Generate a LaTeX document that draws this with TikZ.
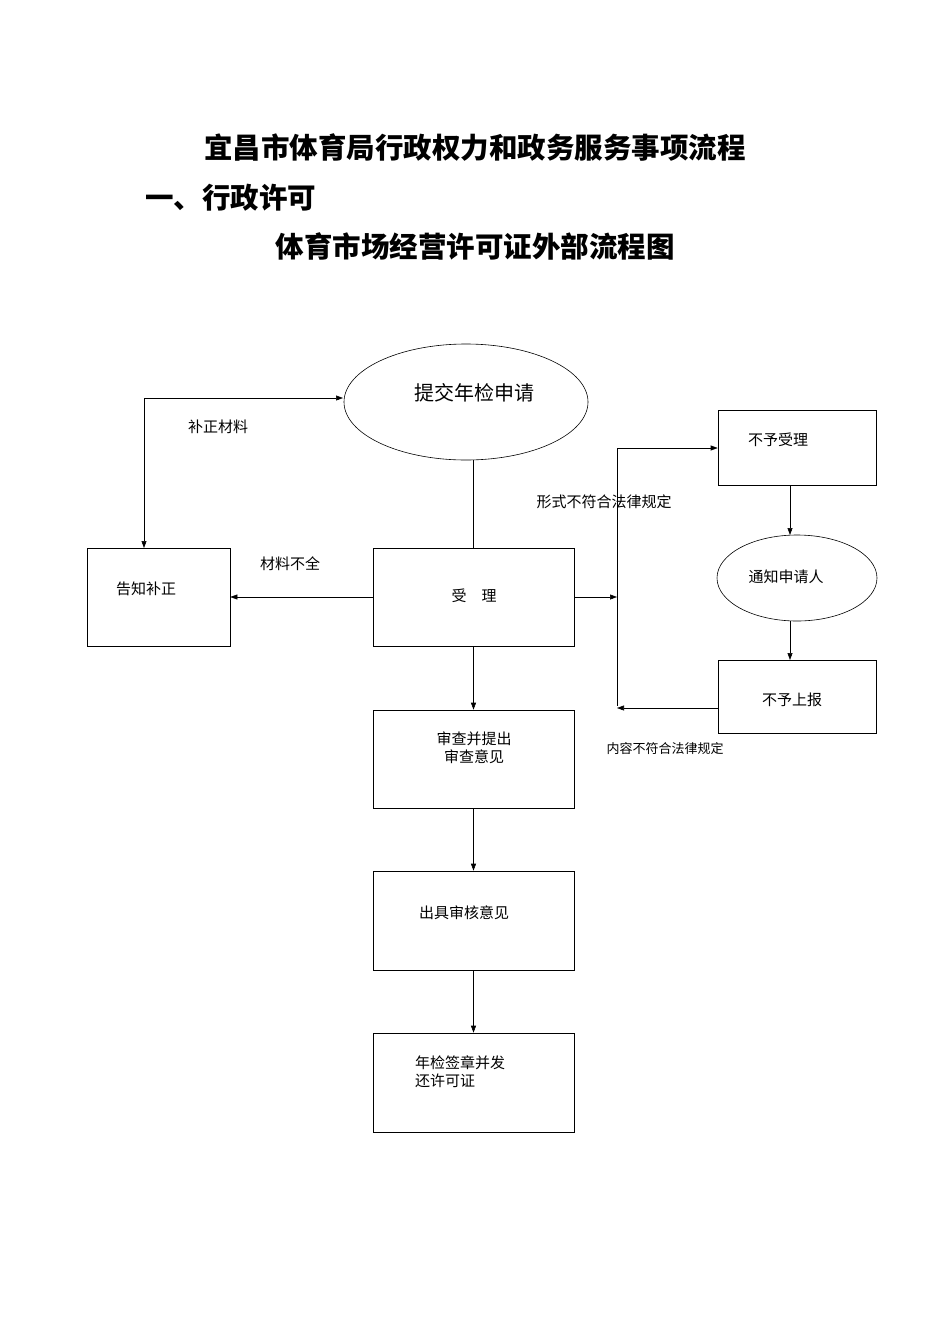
\documentclass[tikz,border=0pt]{standalone}
\usepackage{fontspec}
\setmainfont{Noto Sans CJK SC}
\usetikzlibrary{shapes.geometric,arrows.meta}
\begin{document}
\begin{tikzpicture}[x=1pt,y=-1pt,
  lbl/.style={font=\fontsize{15}{18}\selectfont,inner sep=0pt},
  ttl/.style={font=\fontsize{28.5}{31}\selectfont\bfseries,inner sep=0pt},
  arr/.style={-{Triangle[length=7pt,width=5pt]},line width=0.6pt},
  ln/.style={line width=0.6pt}]
\useasboundingbox (0,0) rectangle (950,1344);
\node[ttl] (t1) at (475,148) {宜昌市体育局行政权力和政务服务事项流程};
\node[ttl,anchor=west] (t2) at (145,198) {一、行政许可};
\node[ttl] (t3) at (475,246) {体育市场经营许可证外部流程图};
% shapes
\node[draw,ellipse,ln,minimum width=244,minimum height=116] (e1) at (466,402) {};
\node[lbl,font=\fontsize{20}{24}\selectfont] at (474,393) {提交年检申请};
\node[draw,ln,minimum width=201,minimum height=98] (sl) at (473.5,597) {};
\node[lbl] at (474,596) {受\quad 理};
\node[draw,ln,minimum width=143,minimum height=98] (gz) at (158.5,597) {};
\node[lbl] at (146,589) {告知补正};
\node[draw,ln,minimum width=158,minimum height=75] (bs) at (797,447.5) {};
\node[lbl] at (778,440) {不予受理};
\node[draw,ellipse,ln,minimum width=160,minimum height=86] (tz) at (797,578) {};
\node[lbl] at (786,577) {通知申请人};
\node[draw,ln,minimum width=158,minimum height=73] (bb) at (797,696.5) {};
\node[lbl] at (792,700) {不予上报};
\node[draw,ln,minimum width=201,minimum height=98] (sc) at (473.5,759) {};
\node[lbl,align=center] at (474,748) {审查并提出\\审查意见};
\node[draw,ln,minimum width=201,minimum height=99] (cj) at (473.5,920.5) {};
\node[lbl] at (464,913) {出具审核意见};
\node[draw,ln,minimum width=201,minimum height=99] (nj) at (473.5,1082.5) {};
\node[lbl,align=left,anchor=west] at (415,1072) {年检签章并发\\还许可证};
% labels
\node[lbl] at (218,427) {补正材料};
\node[lbl] at (290,564) {材料不全};
\node[lbl] at (604,502) {形式不符合法律规定};
\node[lbl,font=\fontsize{13}{16}\selectfont] at (665,749) {内容不符合法律规定};
% connectors
\coordinate (c1) at (144,398);
\coordinate (j1) at (617,597);
\coordinate (j2) at (617,448);
\coordinate (j3) at (617,708);
\draw[ln] (sl.north) -- (sl.north|-e1.south);
\draw[arr] (sl.west) -- (gz.east);
\draw[arr] (c1) -- (144,548);
\draw[arr] (c1) -- (343,398);
\draw[arr] (sl.east) -- (j1);
\draw[ln] (j1) -- (j2);
\draw[arr] (j2) -- (bs.west|-j2);
\draw[ln] (j1) -- (617,706);
\draw[arr] (bb.west|-j3) -- (j3);
\draw[arr] (790,485) -- (790,535);
\draw[arr] (790,621) -- (790,660);
\draw[arr] (sl.south) -- (sc.north);
\draw[arr] (sc.south) -- (cj.north);
\draw[arr] (cj.south) -- (nj.north);
\end{tikzpicture}
\end{document}
